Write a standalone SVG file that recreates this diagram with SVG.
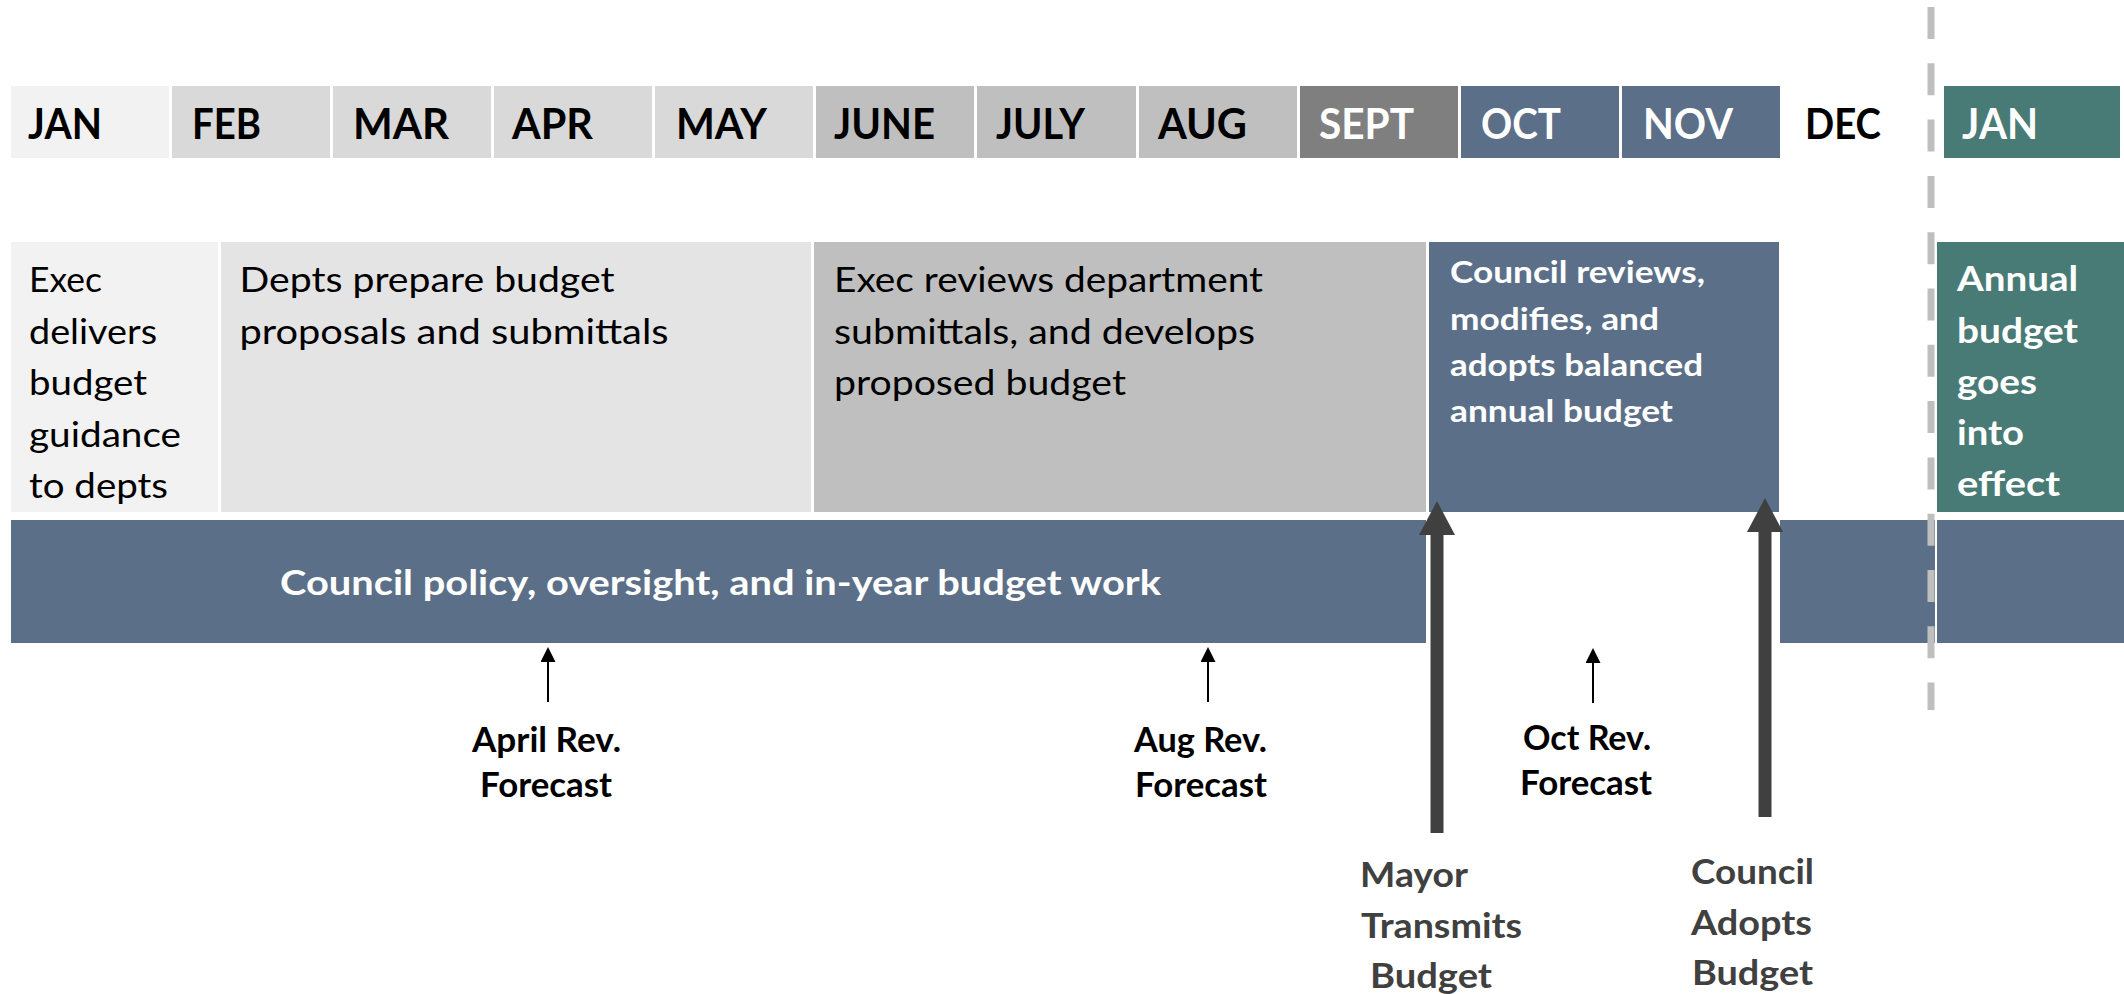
<svg xmlns="http://www.w3.org/2000/svg" width="2124" height="994" viewBox="0 0 2124 994">
<defs>
<style>
text{font-family:Lato,"Liberation Sans","Open Sans",sans-serif;}
.mo{font-size:42px;font-weight:700;}
.rg{font-size:35px;font-weight:400;fill:#000;}
.bw{font-size:35px;font-weight:700;fill:#fff;}
.bw2{font-size:31px;font-weight:700;fill:#fff;}
.bk{font-size:35px;font-weight:700;fill:#000;}
.dg{font-size:35px;font-weight:700;fill:#404040;}
.blk{fill:#000;}
.wht{fill:#fff;}
.slate{fill:#5B7088;}
.teal{fill:#497B76;}
.thin{stroke:#000;stroke-width:2;fill:none;}
.thick{stroke:#404040;stroke-width:13;fill:none;}
</style>
<marker id="ah" viewBox="0 0 15 15" refX="0" refY="7.5" markerWidth="15" markerHeight="15" markerUnits="userSpaceOnUse" orient="auto">
<path d="M0,0 L15,7.5 L0,15 Z" fill="#000"/>
</marker>
<marker id="bh" viewBox="0 0 34 36" refX="0" refY="18" markerWidth="34" markerHeight="36" markerUnits="userSpaceOnUse" orient="auto">
<path d="M0,0 L34,18 L0,36 Z" fill="#404040"/>
</marker>
</defs>
<rect width="2124" height="994" fill="#fff"/>

<g id="months">
<g id="m-jan"><rect x="11" y="86" width="158" height="72" fill="#F2F2F2"/><text class="mo blk" x="28" y="139" textLength="74" lengthAdjust="spacingAndGlyphs">JAN</text></g>
<g id="m-feb"><rect x="172" y="86" width="158" height="72" fill="#D9D9D9"/><text class="mo blk" x="192" y="139" textLength="69" lengthAdjust="spacingAndGlyphs">FEB</text></g>
<g id="m-mar"><rect x="333" y="86" width="158" height="72" fill="#D9D9D9"/><text class="mo blk" x="353" y="139" textLength="96" lengthAdjust="spacingAndGlyphs">MAR</text></g>
<g id="m-apr"><rect x="494" y="86" width="158" height="72" fill="#D9D9D9"/><text class="mo blk" x="512" y="139" textLength="81" lengthAdjust="spacingAndGlyphs">APR</text></g>
<g id="m-may"><rect x="655" y="86" width="158" height="72" fill="#D9D9D9"/><text class="mo blk" x="676" y="139" textLength="91" lengthAdjust="spacingAndGlyphs">MAY</text></g>
<g id="m-june"><rect x="816" y="86" width="158" height="72" fill="#BFBFBF"/><text class="mo blk" x="834" y="139" textLength="101" lengthAdjust="spacingAndGlyphs">JUNE</text></g>
<g id="m-july"><rect x="977" y="86" width="159" height="72" fill="#BFBFBF"/><text class="mo blk" x="996" y="139" textLength="89" lengthAdjust="spacingAndGlyphs">JULY</text></g>
<g id="m-aug"><rect x="1139" y="86" width="158" height="72" fill="#BFBFBF"/><text class="mo blk" x="1158" y="139" textLength="89" lengthAdjust="spacingAndGlyphs">AUG</text></g>
<g id="m-sept"><rect x="1300" y="86" width="158" height="72" fill="#7F7F7F"/><text class="mo wht" x="1319" y="139" textLength="95" lengthAdjust="spacingAndGlyphs">SEPT</text></g>
<g id="m-oct"><rect class="slate" x="1461" y="86" width="158" height="72"/><text class="mo wht" x="1481" y="139" textLength="80" lengthAdjust="spacingAndGlyphs">OCT</text></g>
<g id="m-nov"><rect class="slate" x="1622" y="86" width="158" height="72"/><text class="mo wht" x="1643" y="139" textLength="90" lengthAdjust="spacingAndGlyphs">NOV</text></g>
<g id="m-dec"><text class="mo blk" x="1805" y="139" textLength="76" lengthAdjust="spacingAndGlyphs">DEC</text></g>
<g id="m-jan2"><rect class="teal" x="1944" y="86" width="176" height="72"/><text class="mo wht" x="1962" y="139" textLength="76" lengthAdjust="spacingAndGlyphs">JAN</text></g>
</g>

<g id="exec-guidance">
<rect x="11" y="242" width="207" height="270" fill="#F2F2F2"/>
<text class="rg" x="29" y="292" textLength="73" lengthAdjust="spacingAndGlyphs">Exec</text>
<text class="rg" x="29" y="343.5" textLength="128" lengthAdjust="spacingAndGlyphs">delivers</text>
<text class="rg" x="29" y="395" textLength="118" lengthAdjust="spacingAndGlyphs">budget</text>
<text class="rg" x="29" y="446.5" textLength="152" lengthAdjust="spacingAndGlyphs">guidance</text>
<text class="rg" x="29" y="498" textLength="139" lengthAdjust="spacingAndGlyphs">to depts</text>
</g>

<g id="depts-prepare">
<rect x="221" y="242" width="590" height="270" fill="#E4E4E4"/>
<text class="rg" x="239.5" y="292" textLength="375" lengthAdjust="spacingAndGlyphs">Depts prepare budget</text>
<text class="rg" x="239.5" y="343.5" textLength="429" lengthAdjust="spacingAndGlyphs">proposals and submittals</text>
</g>

<g id="exec-reviews">
<rect x="814" y="242" width="612" height="270" fill="#BFBFBF"/>
<text class="rg" x="834" y="292" textLength="429" lengthAdjust="spacingAndGlyphs">Exec reviews department</text>
<text class="rg" x="834" y="343.5" textLength="421" lengthAdjust="spacingAndGlyphs">submittals, and develops</text>
<text class="rg" x="834" y="395" textLength="292" lengthAdjust="spacingAndGlyphs">proposed budget</text>
</g>

<g id="council-reviews">
<rect class="slate" x="1429" y="242" width="350" height="270"/>
<text class="bw2" x="1450" y="283" textLength="255" lengthAdjust="spacingAndGlyphs">Council reviews,</text>
<text class="bw2" x="1450" y="329.5" textLength="209" lengthAdjust="spacingAndGlyphs">modifies, and</text>
<text class="bw2" x="1450" y="376" textLength="253" lengthAdjust="spacingAndGlyphs">adopts balanced</text>
<text class="bw2" x="1450" y="422" textLength="223" lengthAdjust="spacingAndGlyphs">annual budget</text>
</g>

<g id="annual-effect">
<rect class="teal" x="1937" y="242" width="187" height="270"/>
<text class="bw" x="1957" y="291" textLength="121" lengthAdjust="spacingAndGlyphs">Annual</text>
<text class="bw" x="1957" y="343" textLength="121" lengthAdjust="spacingAndGlyphs">budget</text>
<text class="bw" x="1957" y="394" textLength="80" lengthAdjust="spacingAndGlyphs">goes</text>
<text class="bw" x="1957" y="445" textLength="67" lengthAdjust="spacingAndGlyphs">into</text>
<text class="bw" x="1957" y="496" textLength="103" lengthAdjust="spacingAndGlyphs">effect</text>
</g>

<g id="council-policy">
<rect class="slate" x="11" y="520" width="1415" height="123"/>
<rect class="slate" x="1780" y="520" width="155" height="123"/>
<rect class="slate" x="1937" y="520" width="187" height="123"/>
<text class="bw" x="280" y="595" textLength="881" lengthAdjust="spacingAndGlyphs">Council policy, oversight, and in-year budget work</text>
</g>

<g id="year-divider">
<line x1="1931" y1="7" x2="1931" y2="710" stroke="#BFBFBF" stroke-width="7" stroke-dasharray="32 24.3"/>
</g>

<g id="connectors">
<path class="thin" d="M548,702 L548,662" marker-end="url(#ah)"/>
<path class="thin" d="M1208,702 L1208,662" marker-end="url(#ah)"/>
<path class="thin" d="M1593,703 L1593,663" marker-end="url(#ah)"/>
<path class="thick" d="M1437,833 L1437,535" marker-end="url(#bh)"/>
<path class="thick" d="M1765,817 L1765,532" marker-end="url(#bh)"/>
</g>

<g id="april-forecast">
<text class="bk" x="472" y="752" textLength="149" lengthAdjust="spacingAndGlyphs">April Rev.</text>
<text class="bk" x="480" y="797" textLength="132" lengthAdjust="spacingAndGlyphs">Forecast</text>
</g>
<g id="aug-forecast">
<text class="bk" x="1134" y="752" textLength="133" lengthAdjust="spacingAndGlyphs">Aug Rev.</text>
<text class="bk" x="1135" y="797" textLength="132" lengthAdjust="spacingAndGlyphs">Forecast</text>
</g>
<g id="oct-forecast">
<text class="bk" x="1523" y="750" textLength="128" lengthAdjust="spacingAndGlyphs">Oct Rev.</text>
<text class="bk" x="1520" y="795" textLength="132" lengthAdjust="spacingAndGlyphs">Forecast</text>
</g>
<g id="mayor-transmits">
<text class="dg" x="1360" y="887" textLength="108" lengthAdjust="spacingAndGlyphs">Mayor</text>
<text class="dg" x="1361" y="938" textLength="161" lengthAdjust="spacingAndGlyphs">Transmits</text>
<text class="dg" x="1370" y="988" textLength="122" lengthAdjust="spacingAndGlyphs">Budget</text>
</g>
<g id="council-adopts">
<text class="dg" x="1691" y="884" textLength="123" lengthAdjust="spacingAndGlyphs">Council</text>
<text class="dg" x="1691" y="935" textLength="121" lengthAdjust="spacingAndGlyphs">Adopts</text>
<text class="dg" x="1692" y="985" textLength="121" lengthAdjust="spacingAndGlyphs">Budget</text>
</g>
</svg>
